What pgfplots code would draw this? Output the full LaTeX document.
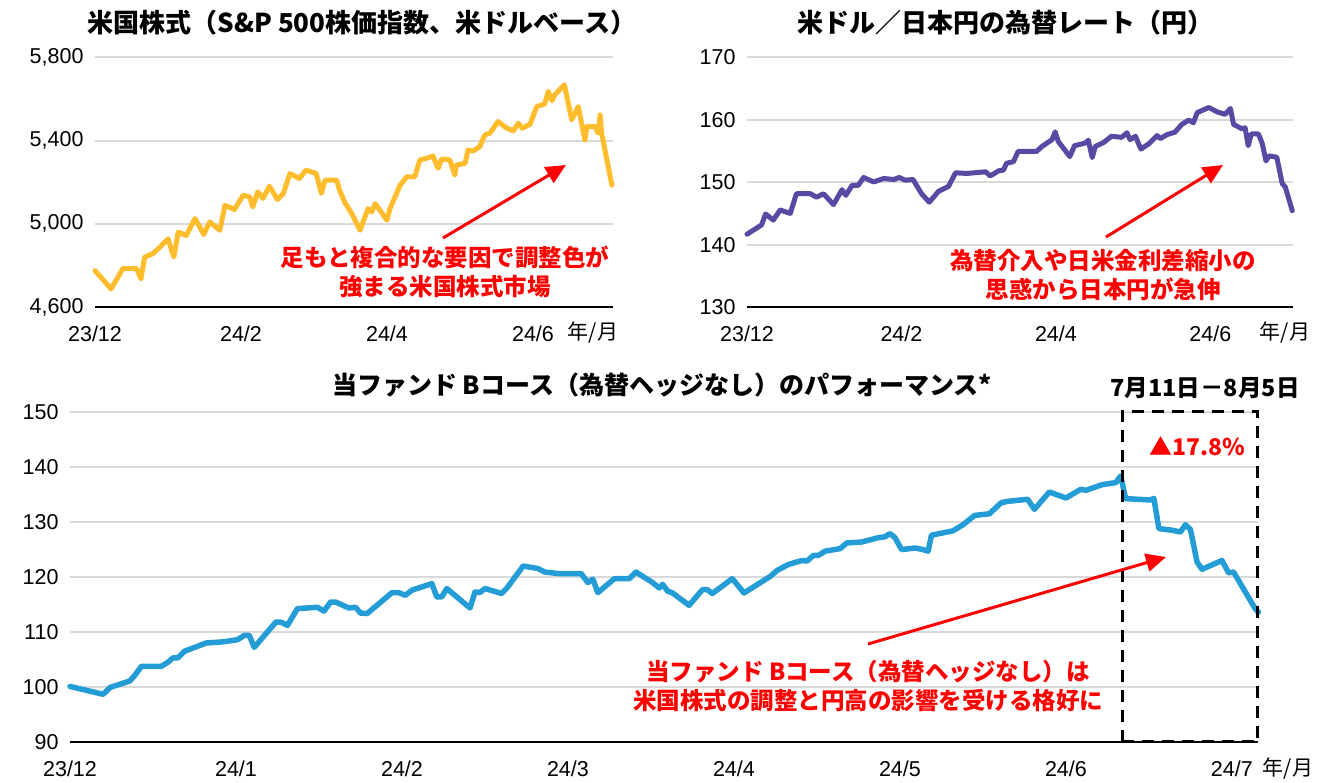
\documentclass[border=0pt]{standalone}
\usepackage{fontspec}
\setmainfont{Liberation Sans}
\newfontfamily\jp{Noto Sans CJK JP}
\usepackage{pgfplots}
\pgfplotsset{compat=1.18}
\usetikzlibrary{arrows.meta}
\definecolor{spc}{RGB}{255,189,45}
\definecolor{fxc}{RGB}{86,74,163}
\definecolor{fdc}{RGB}{36,157,215}
\definecolor{gridc}{RGB}{217,217,217}
\definecolor{ared}{RGB}{255,0,0}
\pgfplotsset{base/.style={
 scale only axis, anchor=south west,
 axis x line*=bottom, axis y line*=left,
 y axis line style={draw=none},
 x axis line style={black, line width=2pt, -},
 major tick length=0pt,
 ymajorgrids, grid style={gridc, line width=2pt},
 tick label style={font=\fontsize{21.5}{24}\selectfont},
 /pgf/number format/assume math mode=true,
 /pgf/number format/1000 sep={,},
 scaled ticks=false,
 clip=false,
 xticklabel style={yshift=-15pt},
 yticklabel style={xshift=-8pt},
}}
\pgfplotstableread{
m v
0.00 4775
0.22 4687
0.38 4784
0.57 4784
0.63 4735
0.68 4840
0.79 4856
0.89 4888
1.00 4928
1.08 4840
1.14 4960
1.25 4944
1.37 5025
1.49 4949
1.57 5009
1.71 4969
1.78 5089
1.91 5069
2.03 5138
2.12 5129
2.16 5081
2.23 5154
2.30 5122
2.39 5181
2.50 5117
2.58 5146
2.67 5242
2.80 5218
2.89 5258
3.03 5242
3.10 5146
3.15 5210
3.31 5210
3.35 5162
3.42 5105
3.53 5041
3.63 4969
3.74 5073
3.79 5057
3.84 5097
4.00 5017
4.04 5073
4.18 5186
4.27 5226
4.38 5226
4.45 5307
4.54 5315
4.63 5326
4.70 5267
4.75 5312
4.86 5307
4.93 5234
4.95 5283
5.07 5291
5.11 5355
5.18 5350
5.27 5371
5.34 5427
5.41 5436
5.52 5492
5.64 5460
5.73 5447
5.80 5484
5.85 5460
5.96 5479
6.05 5564
6.16 5576
6.21 5637
6.26 5592
6.30 5621
6.43 5669
6.53 5500
6.62 5564
6.71 5403
6.74 5468
6.85 5468
6.89 5436
6.92 5524
6.94 5436
6.99 5347
7.08 5186
}\spdata
\pgfplotstableread{
m v
0.00 141.66
0.19 143.17
0.24 144.91
0.34 143.93
0.43 145.56
0.56 145.00
0.64 148.16
0.82 148.16
0.90 147.60
0.99 148.16
1.12 146.42
1.23 148.80
1.28 147.90
1.36 149.50
1.44 149.50
1.51 150.76
1.64 150.05
1.77 150.60
1.90 150.44
1.97 150.76
2.05 150.33
2.15 150.44
2.26 148.16
2.36 146.80
2.48 148.54
2.61 149.35
2.70 151.51
2.85 151.41
2.93 151.50
3.09 151.67
3.15 151.02
3.26 151.84
3.32 151.95
3.36 153.04
3.45 153.30
3.51 154.93
3.75 154.93
3.82 155.74
3.95 156.83
3.99 158.08
4.03 156.55
4.18 154.11
4.24 155.85
4.38 156.29
4.42 156.72
4.47 153.95
4.51 155.74
4.62 156.39
4.72 157.37
4.85 157.20
4.92 157.92
4.96 156.83
5.03 157.37
5.10 155.31
5.20 156.13
5.31 157.48
5.35 156.99
5.44 157.64
5.54 158.02
5.63 159.27
5.72 159.97
5.78 159.54
5.83 161.17
5.98 161.98
6.09 161.27
6.19 160.89
6.26 161.82
6.30 159.27
6.41 158.57
6.45 158.73
6.49 155.85
6.53 157.75
6.62 157.75
6.67 156.29
6.72 153.41
6.76 154.23
6.86 154.01
6.93 149.79
6.97 149.24
7.06 145.45
}\fxdata
\pgfplotstableread{
m v
0.00 100.1
0.20 98.67
0.24 99.9
0.36 101.1
0.39 102.1
0.43 103.76
0.55 103.76
0.59 104.5
0.62 105.3
0.65 105.3
0.69 106.5
0.82 108.0
0.92 108.2
1.01 108.6
1.05 109.4
1.08 109.4
1.11 107.2
1.24 111.8
1.27 111.8
1.31 111.2
1.37 114.25
1.49 114.5
1.53 113.8
1.57 115.45
1.60 115.45
1.68 114.36
1.72 114.5
1.75 113.45
1.79 113.35
1.94 117.16
1.98 117.16
2.02 116.67
2.06 117.6
2.18 118.8
2.21 116.36
2.24 116.4
2.27 117.9
2.41 114.36
2.44 117.27
2.47 117.2
2.50 117.9
2.60 117.0
2.63 117.9
2.73 122.0
2.82 121.53
2.86 120.9
2.95 120.6
3.08 120.6
3.12 118.98
3.15 119.6
3.18 117.16
3.28 119.7
3.37 119.7
3.41 120.9
3.51 118.98
3.55 118.0
3.57 118.67
3.60 117.45
3.63 117.1
3.73 114.85
3.81 117.7
3.84 117.7
3.87 117.0
3.99 119.7
4.06 117.1
4.22 120.13
4.26 121.2
4.33 122.3
4.41 123.0
4.44 122.9
4.48 123.95
4.51 123.95
4.55 124.7
4.64 125.16
4.68 126.2
4.77 126.36
4.87 127.16
4.91 127.3
4.94 127.9
4.97 127.16
5.01 124.98
5.09 125.27
5.14 124.98
5.17 124.7
5.19 127.6
5.32 128.4
5.38 129.5
5.45 131.2
5.54 131.5
5.56 132.1
5.61 133.5
5.65 133.76
5.77 134.13
5.81 132.3
5.90 135.45
6.00 134.36
6.09 135.95
6.12 135.76
6.22 136.8
6.30 137.16
6.33 138.36
6.36 134.25
6.51 134.0
6.53 134.3
6.56 128.8
6.64 128.5
6.69 128.18
6.72 129.5
6.75 128.67
6.79 122.73
6.82 121.4
6.94 123.0
6.98 120.76
7.01 120.9
7.14 114.25
7.16 113.6
}\fddata
\begin{document}
\begin{tikzpicture}[x=1pt,y=1pt]
\useasboundingbox (0,0) rectangle (1319,783);
% top-left
\begin{axis}[base, at={(95pt,476pt)}, width=518pt, height=249.5pt,
 xmin=0, xmax=7.096, ymin=4600, ymax=5800,
 ytick={4600,5000,5400,5800},
 xtick={0,2,4,6}, xticklabels={23/12,24/2,24/4,24/6}]
\addplot[spc, line width=5pt, line join=round, line cap=round] table[x=m,y=v] {\spdata};
\end{axis}
% top-right
\begin{axis}[base, at={(747pt,476pt)}, width=546pt, height=249.5pt,
 xmin=0, xmax=7.07, ymin=130, ymax=170,
 ytick={130,140,150,160,170},
 xtick={0,2,4,6}, xticklabels={23/12,24/2,24/4,24/6}]
\addplot[fxc, line width=5pt, line join=round, line cap=round] table[x=m,y=v] {\fxdata};
\end{axis}
% bottom
\begin{axis}[base, at={(70pt,41pt)}, width=1188pt, height=330pt,
 xmin=0, xmax=7.157, ymin=90, ymax=150,
 ytick={90,100,110,120,130,140,150},
 xtick={0,1,2,3,4,5,6,7}, xticklabels={23/12,24/1,24/2,24/3,24/4,24/5,24/6,24/7}]
\addplot[fdc, line width=5.5pt, line join=round, line cap=round] table[x=m,y=v] {\fddata};
\draw[black, line width=3pt, dash pattern=on 12pt off 8pt] (axis cs:6.34,90) rectangle (axis cs:7.157,150);
\end{axis}
% titles
\node[font=\jp\bfseries\fontsize{26}{30}\selectfont] at (362,760) {米国株式（S\&P 500株価指数、米ドルベース）};
\node[font=\jp\bfseries\fontsize{26}{30}\selectfont] at (1005,760) {米ドル／日本円の為替レート（円）};
\node[font=\jp\bfseries\fontsize{25}{30}\selectfont] at (662,398) {当ファンド Bコース（為替ヘッジなし）のパフォーマンス*};
\node[font=\jp\bfseries\fontsize{23.5}{28}\selectfont] at (1205,395) {7月11日－8月5日};
% year/month
\node[font=\jp\fontsize{21}{24}\selectfont] at (593,450) {年/月};
\node[font=\jp\fontsize{21}{24}\selectfont] at (1285,450) {年/月};
\node[font=\jp\fontsize{21}{24}\selectfont] at (1288,14) {年/月};
% red annotations
\node[ared, align=center, font=\jp\bfseries\fontsize{23.5}{28.5}\selectfont] at (445,511) {足もと複合的な要因で調整色が\\強まる米国株式市場};
\node[ared, align=center, font=\jp\bfseries\fontsize{23.5}{28.5}\selectfont] at (1103,508) {為替介入や日米金利差縮小の\\思惑から日本円が急伸};
\node[ared, align=center, font=\jp\bfseries\fontsize{23.5}{28.5}\selectfont] at (868,97) {当ファンド Bコース（為替ヘッジなし）は\\米国株式の調整と円高の影響を受ける格好に};
\node[ared, font=\jp\bfseries\fontsize{23}{26}\selectfont] at (1197,337) {▲17.8\%};
% arrows
\draw[ared, line width=3pt, -{Triangle[length=20pt,width=18pt]}] (443,545) -- (566,618);
\draw[ared, line width=3pt, -{Triangle[length=20pt,width=18pt]}] (1106,546) -- (1223,618);
\draw[ared, line width=3pt, -{Triangle[length=20pt,width=18pt]}] (868,139) -- (1166,226);
\end{tikzpicture}
\end{document}
